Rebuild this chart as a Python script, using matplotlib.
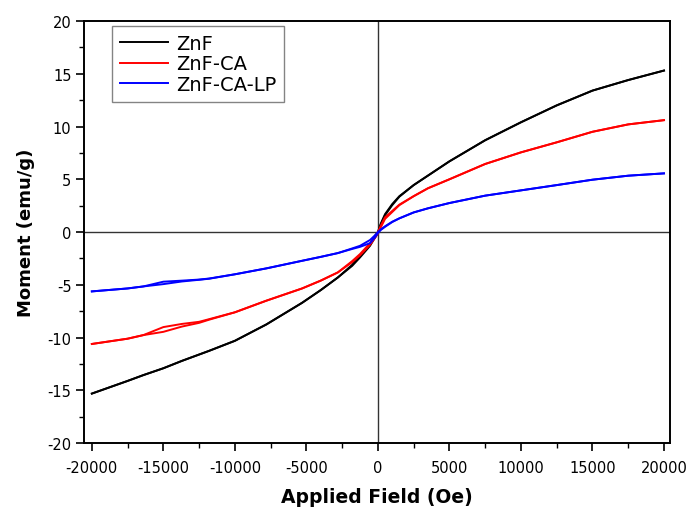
import matplotlib
matplotlib.use("Agg")
import matplotlib.pyplot as plt
from matplotlib.ticker import MultipleLocator

plt.rcParams['font.family'] = ['DejaVu Sans']

# Applied field (Oe)
field = [-20000, -17500, -16400, -15000, -13700, -12500, -11800, -10000, -7800,
         -5300, -4000, -2800, -1800, -1250, -550, -200, 0, 200, 500,
         1000, 1500, 2500, 3500, 5000, 7500, 10000, 12500, 15000, 17500, 20000]

# Moment (emu/g) - two branches of each loop
znf_a = [-15.3, -14.1, -13.55, -12.9, -12.2, -11.6, -11.25, -10.3, -8.75,
         -6.7, -5.5, -4.3, -3.1, -2.24, -1.14, -0.35, 0.0, 0.8, 1.7,
         2.65, 3.4, 4.45, 5.35, 6.7, 8.7, 10.4, 12.0, 13.4, 14.4, 15.3]
znf_b = [-15.3, -14.1, -13.55, -12.9, -12.2, -11.6, -11.25, -10.3, -8.75,
         -6.7, -5.5, -4.3, -3.2, -2.4, -1.3, -0.5, -0.1, 0.7, 1.6,
         2.55, 3.35, 4.45, 5.35, 6.7, 8.7, 10.4, 12.0, 13.4, 14.4, 15.3]

ca_a = [-10.6, -10.1, -9.76, -9.0, -8.7, -8.5, -8.25, -7.6, -6.5,
        -5.34, -4.6, -3.82, -2.75, -2.08, -1.05, -0.4, 0.0, 0.6, 1.4,
        2.0, 2.6, 3.4, 4.15, 5.0, 6.45, 7.55, 8.5, 9.5, 10.2, 10.6]
ca_b = [-10.6, -10.1, -9.76, -9.45, -8.95, -8.6, -8.3, -7.6, -6.5,
        -5.34, -4.6, -3.82, -2.85, -2.2, -1.2, -0.55, -0.15, 0.45, 1.25,
        1.9, 2.55, 3.4, 4.15, 5.0, 6.45, 7.55, 8.5, 9.5, 10.2, 10.6]

lp_a = [-5.62, -5.34, -5.15, -4.7, -4.6, -4.5, -4.4, -4.0, -3.44,
        -2.72, -2.35, -1.99, -1.55, -1.3, -0.75, -0.3, 0.0, 0.25, 0.55,
        0.98, 1.3, 1.86, 2.25, 2.75, 3.45, 3.95, 4.45, 4.96, 5.34, 5.56]
lp_b = [-5.62, -5.34, -5.15, -4.93, -4.68, -4.52, -4.42, -4.0, -3.44,
        -2.72, -2.35, -1.99, -1.6, -1.4, -1.05, -0.5, -0.1, 0.2, 0.5,
        0.95, 1.3, 1.86, 2.25, 2.75, 3.45, 3.95, 4.45, 4.96, 5.34, 5.56]

series = [("ZnF", znf_a, znf_b, "#000000"),
          ("ZnF-CA", ca_a, ca_b, "#ff0000"),
          ("ZnF-CA-LP", lp_a, lp_b, "#0000ff")]

x_ticks = [-20000, -15000, -10000, -5000, 0, 5000, 10000, 15000, 20000]
y_ticks = [-20, -15, -10, -5, 0, 5, 10, 15, 20]

fig = plt.figure(figsize=(6.94, 5.10), dpi=100)
ax = fig.add_axes([0.121, 0.129, 0.844, 0.828])

ax.axhline(0, color="#333333", lw=1.0, zorder=1)
ax.axvline(0, color="#333333", lw=1.0, zorder=1)

for name, a, b, col in series:
    ax.plot(field, a, color=col, lw=1.4, label=name, zorder=3)
    ax.plot(field, b, color=col, lw=1.4, zorder=3)

ax.set_xlim(-20550, 20400)
ax.set_ylim(-20, 20)
ax.set_xticks(x_ticks)
ax.set_yticks(y_ticks)
ax.set_xticklabels([str(v) for v in x_ticks])
ax.set_yticklabels([str(v) for v in y_ticks])
ax.xaxis.set_minor_locator(MultipleLocator(2500))
ax.yaxis.set_minor_locator(MultipleLocator(2.5))
ax.tick_params(which="major", direction="out", length=6, width=1.2, labelsize=10.5,
               top=False, right=False)
ax.tick_params(axis="x", which="major", pad=6)
ax.tick_params(axis="y", which="major", pad=3)
ax.tick_params(which="minor", direction="out", length=3.5, width=1.0, top=False, right=False)
for s in ax.spines.values():
    s.set_linewidth(1.4)

ax.set_xlabel("Applied Field (Oe)", fontsize=13.5, fontweight="bold", labelpad=9)
ax.set_ylabel("Moment (emu/g)", fontsize=13, fontweight="bold", labelpad=9)

leg = ax.legend(loc="upper left", bbox_to_anchor=(0.048, 0.988), borderaxespad=0,
                fontsize=14, frameon=True, fancybox=False, edgecolor="#666666",
                handlelength=2.5, handletextpad=0.4, borderpad=0.4,
                labelspacing=0.08)
leg.get_frame().set_linewidth(1.0)

fig.savefig("out.png", dpi=100)
